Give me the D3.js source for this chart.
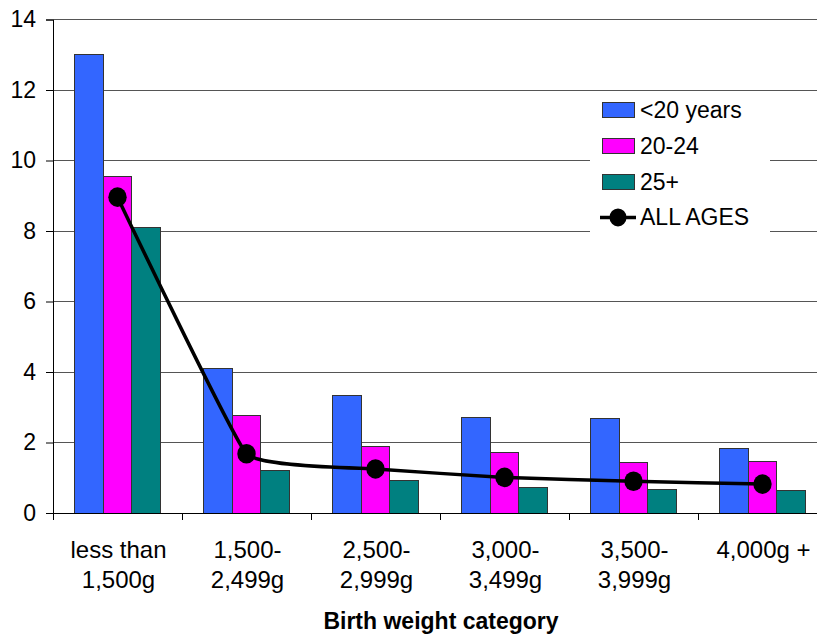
<!DOCTYPE html>
<html><head><meta charset="utf-8">
<script src="https://cdn.jsdelivr.net/npm/d3@7"></script>
<style>body{margin:0;background:#fff;overflow:hidden}svg{display:block}text{font-family:"Liberation Sans",Arial,sans-serif}</style>
</head><body>
<svg id="c" width="817" height="634"></svg>
<script>
const categories = [["less than","1,500g"],["1,500-","2,499g"],["2,500-","2,999g"],["3,000-","3,499g"],["3,500-","3,999g"],["4,000g +"]];
const seriesNames = ["<20 years","20-24","25+"];
const under20 = [13.0, 4.11, 3.33, 2.72, 2.67, 1.82];
const age20to24 = [9.56, 2.76, 1.88, 1.73, 1.43, 1.45];
const age25plus = [8.1, 1.21, 0.92, 0.73, 0.68, 0.64];
const allAges = [8.96, 1.68, 1.25, 1.01, 0.9, 0.82];
const yTicks = [0,2,4,6,8,10,12,14];
const colors = ["#3366FF","#FF00FF","#008080"];
const lineName = "ALL AGES";
const xTitle = "Birth weight category";

(function(){
const svg = d3.select("#c");
const pL = 53, pR = 827, pT = 19.5, pB = 513;
const idx = categories.map((d,i)=>i);
const x = d3.scaleBand().domain(idx).range([pL,pR]).paddingInner(1/3).paddingOuter(1/6);
const xOuter = d3.scaleBand().domain(idx).range([pL,pR]);
const y = d3.scaleLinear().domain([0,14]).range([pB,pT]);
const series = [under20, age20to24, age25plus];
const xs = d3.scaleBand().domain([0,1,2]).range([0,x.bandwidth()]);

// gridlines
svg.append("g").selectAll("line").data(yTicks.filter(t=>t>0)).join("line")
  .attr("x1",pL).attr("x2",pR).attr("y1",d=>y(d)).attr("y2",d=>y(d))
  .attr("stroke","#555").attr("stroke-width",1).attr("shape-rendering","crispEdges");

// bars
series.forEach((vals,si)=>{
  svg.append("g").selectAll("rect").data(vals).join("rect")
    .attr("x",(d,i)=>x(i)+xs(si)).attr("width",xs.bandwidth())
    .attr("y",d=>y(d)).attr("height",d=>pB-y(d))
    .attr("fill",colors[si]).attr("stroke","#333").attr("stroke-width",1).attr("shape-rendering","crispEdges");
});

// line
const cx = i => x(i)+xs(1)+xs.bandwidth()/2;
const line = d3.line().x((d,i)=>cx(i)).y(d=>y(d)).curve(d3.curveCardinal.tension(0.7));
svg.append("path").datum(allAges).attr("d",line).attr("fill","none").attr("stroke","#000").attr("stroke-width",3.5);
svg.append("g").selectAll("ellipse").data(allAges).join("ellipse")
  .attr("cx",(d,i)=>cx(i)).attr("cy",d=>y(d)).attr("rx",9.2).attr("ry",9.8).attr("fill","#000");

// y axis
const ya = svg.append("g").attr("transform",`translate(${pL},0)`)
  .call(d3.axisLeft(y).tickValues(yTicks).tickSize(7).tickPadding(10));
ya.select(".domain").attr("stroke","#000");
ya.selectAll("line").attr("stroke","#000");
ya.selectAll("text").attr("font-size","23px").attr("fill","#000").attr("font-family","Liberation Sans, Arial, sans-serif");

// x axis
svg.append("line").attr("x1",pL).attr("x2",pR).attr("y1",pB).attr("y2",pB).attr("stroke","#000").attr("shape-rendering","crispEdges");
const bounds = idx.map(i=>xOuter(i)).concat([pR]);
svg.append("g").selectAll("line").data(bounds).join("line")
  .attr("x1",d=>d).attr("x2",d=>d).attr("y1",pB).attr("y2",pB+7).attr("stroke","#000").attr("shape-rendering","crispEdges");
const lbl = svg.append("g").selectAll("text").data(categories).join("text")
  .attr("text-anchor","middle").attr("font-size","24px").attr("fill","#000")
  .attr("x",(d,i)=>xOuter(i)+xOuter.bandwidth()/2 + 1).attr("y",558);
lbl.each(function(d){
  const t = d3.select(this);
  d.forEach((s,k)=>t.append("tspan").attr("x",t.attr("x")).attr("dy",k===0?0:30).text(s));
});
svg.append("text").attr("x",(pL+pR)/2+1).attr("y",629).attr("text-anchor","middle")
  .attr("font-size","23px").attr("font-weight","bold").text(xTitle);

// legend
const lg = svg.append("g");
lg.append("rect").attr("x",590).attr("y",92).attr("width",180).attr("height",146).attr("fill","#fff");
const legendItems = seriesNames.map((n,i)=>({name:n,color:colors[i],type:"bar"})).concat([{name:lineName,type:"line"}]);
legendItems.forEach((it,i)=>{
  const cy = 110 + i*35.8;
  if(it.type==="bar"){
    lg.append("rect").attr("x",602).attr("y",cy-7.5).attr("width",32).attr("height",15)
      .attr("fill",it.color).attr("stroke","#333").attr("shape-rendering","crispEdges");
  } else {
    lg.append("line").attr("x1",600).attr("x2",636).attr("y1",cy).attr("y2",cy).attr("stroke","#000").attr("stroke-width",3.5);
    lg.append("ellipse").attr("cx",618).attr("cy",cy).attr("rx",8.5).attr("ry",9).attr("fill","#000");
  }
  lg.append("text").attr("x",640).attr("y",cy+8).attr("font-size","23px").attr("fill","#000").text(it.name);
});
})();
</script>
</body></html>
